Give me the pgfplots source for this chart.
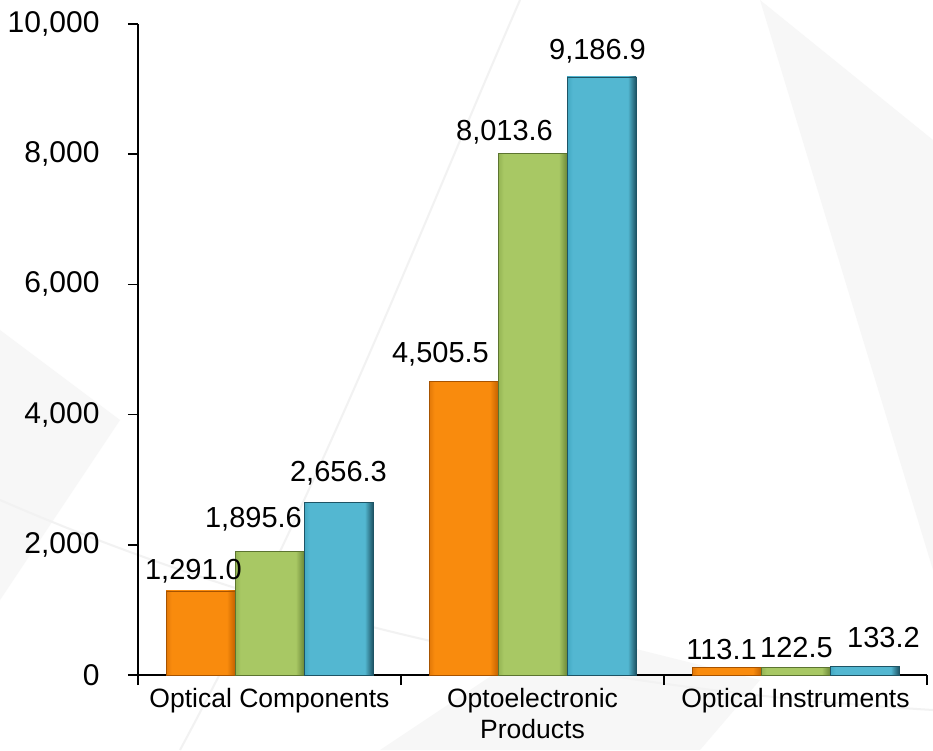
\documentclass[border=0pt]{standalone}
\usepackage{fontspec}
\setmainfont{Liberation Sans}
\usepackage{pgfplots}
\pgfplotsset{compat=1.18}

\definecolor{orgL}{HTML}{E27808}
\definecolor{orgM}{HTML}{F98B0D}
\definecolor{orgR}{HTML}{C46200}
\definecolor{grnL}{HTML}{93B352}
\definecolor{grnM}{HTML}{A8C864}
\definecolor{grnR}{HTML}{6C8838}
\definecolor{bluL}{HTML}{41A7C2}
\definecolor{bluM}{HTML}{53B7D1}
\definecolor{bluR}{HTML}{1E5465}

% bevel: thin edges, flat face (path covers 25bp..75bp)
\pgfdeclarehorizontalshading{orgshade}{100bp}{color(0bp)=(orgL); color(25bp)=(orgL); color(29bp)=(orgM); color(69bp)=(orgM); color(75bp)=(orgR); color(100bp)=(orgR)}
\pgfdeclarehorizontalshading{grnshade}{100bp}{color(0bp)=(grnL); color(25bp)=(grnL); color(29bp)=(grnM); color(69bp)=(grnM); color(75bp)=(grnR); color(100bp)=(grnR)}
\pgfdeclarehorizontalshading{blushade}{100bp}{color(0bp)=(bluL); color(25bp)=(bluL); color(29bp)=(bluM); color(69bp)=(bluM); color(75bp)=(bluR); color(100bp)=(bluR)}

% one style per series; each bar is its own plot so the shading fits the bar
\pgfplotsset{
  orgbar/.style={draw=orgR!85!black, line width=0.6pt, shading=orgshade, shading angle=0, bar shift=-69pt},
  grnbar/.style={draw=grnR!85!black, line width=0.6pt, shading=grnshade, shading angle=0, bar shift=0pt},
  blubar/.style={draw=bluR, line width=0.6pt, shading=blushade, shading angle=0, bar shift=69pt},
  lbl/.style 2 args={every node near coord/.append style={xshift=#1, yshift=#2}},
}

\begin{document}
\begin{tikzpicture}
% page background (933 x 750, 1pt = 1px)
\fill[white] (0pt,0pt) rectangle (933pt,750pt);
\useasboundingbox (0pt,0pt) rectangle (933pt,750pt);
% faint background streaks
\fill[black!3] (760pt,750pt) -- (933pt,610pt) -- (933pt,180pt) -- (860pt,420pt) -- cycle;
\fill[black!3] (0pt,420pt) -- (120pt,330pt) -- (0pt,150pt) -- cycle;
\fill[black!3] (380pt,0pt) -- (560pt,120pt) -- (760pt,70pt) -- (700pt,0pt) -- cycle;
\draw[black!5, line width=2pt] (0pt,250pt) .. controls (300pt,120pt) and (600pt,60pt) .. (933pt,40pt);
\draw[black!5, line width=2pt] (180pt,0pt) .. controls (320pt,260pt) and (420pt,520pt) .. (520pt,750pt);

\begin{axis}[
  at={(138pt,75pt)}, anchor=south west,
  scale only axis, width=789pt, height=651pt,
  xmin=-0.5, xmax=2.5, ymin=0, ymax=10000,
  ybar=0pt, bar width=69pt,
  axis x line*=bottom, axis y line*=left,
  axis line style={-, line width=1.5pt},
  tick align=outside,
  major tick length=10pt, minor tick length=10pt,
  tick style={black, line width=1.5pt},
  xtick={0,1,2},
  xticklabels={Optical Components, {Optoelectronic\\Products}, Optical Instruments},
  minor xtick={-0.5,0.5,1.5,2.5},
  major x tick style={draw=none},
  ytick={0,2000,...,10000},
  scaled y ticks=false,
  /pgf/number format/assume math mode=true,
  /pgf/number format/1000 sep={,},
  yticklabel style={font=\fontsize{30}{36}\selectfont, xshift=-25pt, /pgf/number format/fixed, /pgf/number format/precision=0},
  xticklabel style={font=\fontsize{26.5}{31}\selectfont, align=center},
  nodes near coords={\pgfmathprintnumber[fixed, fixed zerofill, precision=1, 1000 sep={,}]{\pgfplotspointmeta}},
  every node near coord/.append style={font=\fontsize{29}{34}\selectfont, black, anchor=base},
]
% Optical Components
\addplot[orgbar, lbl={-7pt}{11pt}] coordinates {(0,1291.0)};
\addplot[grnbar, lbl={-16pt}{24pt}] coordinates {(0,1895.6)};
\addplot[blubar, lbl={0pt}{21pt}] coordinates {(0,2656.3)};
% Optoelectronic Products
\addplot[orgbar, lbl={-23pt}{19pt}] coordinates {(1,4505.5)};
\addplot[grnbar, lbl={-28pt}{13pt}] coordinates {(1,8013.6)};
\addplot[blubar, lbl={-4pt}{17pt}] coordinates {(1,9186.9)};
% Optical Instruments
\addplot[orgbar, lbl={-5pt}{8pt}] coordinates {(2,113.1)};
\addplot[grnbar, lbl={1pt}{10pt}] coordinates {(2,122.5)};
\addplot[blubar, lbl={19pt}{19pt}] coordinates {(2,133.2)};
\end{axis}
\end{tikzpicture}
\end{document}
